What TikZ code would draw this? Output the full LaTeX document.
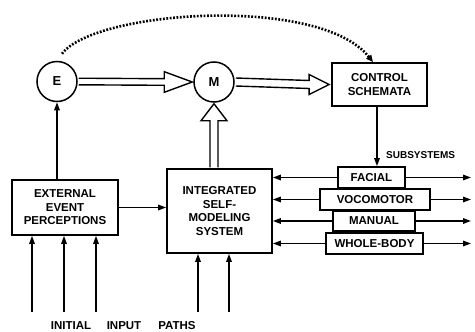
\documentclass[tikz,border=0pt]{standalone}
\usepackage{fontspec}
\setmainfont{Liberation Sans}
\usetikzlibrary{arrows.meta,calc}
\begin{document}
\begin{tikzpicture}[x=1pt,y=-1pt,
  lbl/.style={font=\bfseries\fontsize{11.5}{13.5}\selectfont, align=center, inner sep=0pt},
  blk/.style={draw, line width=1.7pt, lbl},
  subbox/.style={blk, minimum height=21pt},
  ring/.style={draw, circle, line width=1.5pt, minimum size=40pt, inner sep=0pt, lbl, font=\bfseries\fontsize{13}{15}\selectfont},
  wire/.style={line width=1.5pt},
  tip/.style={wire, -{Triangle[length=8pt,width=5.5pt]}},
  hollow/.style={draw, line width=1.4pt, fill=white, line join=miter},
  dots/.style={line width=2.6pt, dash pattern=on 1.8pt off 1.6pt, -{Triangle[length=7pt,width=6pt]}}
]
\useasboundingbox (0,0) rectangle (475,332);

% circles and blocks
\node[ring] (E) at (57,81.5) {E};
\node[ring] (M) at (214,82) {M};
\node[blk, minimum width=95pt, minimum height=43pt] (CS) at (379.5,84.5) {CONTROL\\SCHEMATA};
\node[blk, minimum width=106pt, minimum height=55pt] (EEP) at (65,207.5) {EXTERNAL\\EVENT\\PERCEPTIONS};
\node[blk, minimum width=105pt, minimum height=84pt] (ISMS) at (219.5,211) {INTEGRATED\\SELF-\\MODELING\\SYSTEM};

% subsystem boxes
\node[subbox, minimum width=67pt] (FAC) at (371.5,177.5) {FACIAL};
\node[subbox, minimum width=110pt] (VOC) at (375,199.5) {VOCOMOTOR};
\node[subbox, minimum width=82pt, minimum height=20pt] (MAN) at (374,221) {MANUAL};
\node[subbox, minimum width=97pt] (WB) at (374.5,243.5) {WHOLE-BODY};

% labels
\node[lbl, font=\bfseries\fontsize{10}{11}\selectfont, anchor=west] (sublbl) at (386,155) {SUBSYSTEMS};
\node[lbl] (w1) at (71,326) {INITIAL};
\node[lbl] (w2) at (124,326) {INPUT};
\node[lbl] (w3) at (177,326) {PATHS};

% hollow arrows
\draw[hollow] ($(E.east)+(1,3.3)$) -- ($(M.west)+(-29,3.3)$) -- ($(M.west)+(-29,10.3)$)
  -- ($(M.west)+(-1,0)$) -- ($(M.west)+(-29,-10.3)$) -- ($(M.west)+(-29,-3.3)$) -- ($(E.east)+(1,-3.3)$);
\draw[hollow] ($(M.east)+(1,4)$) -- ($(CS.west)+(-22,4)$) -- ($(CS.west)+(-22,10)$)
  -- ($(CS.west)+(-2,0)$) -- ($(CS.west)+(-22,-10)$) -- ($(CS.west)+(-22,-4)$) -- ($(M.east)+(1,-4)$);
\coordinate (mup) at (M.south |- ISMS.north);
\draw[hollow] ($(mup)+(-4,-0.8)$) -- ($(M.south)+(-4,18)$) -- ($(M.south)+(-13,18)$)
  -- ($(M.south)+(0,1)$) -- ($(M.south)+(13,18)$) -- ($(M.south)+(4,18)$) -- ($(mup)+(4,-0.8)$);

% dotted feedback from E to the control schemata
\draw[dots] ($(E.north)+(5,-7)$) .. controls (95,10) and (320,-5) .. ($(CS.north)+(-6.5,0)$);

% control schemata to subsystems
\coordinate (csout) at ($(CS.south)+(-2.5,0)$);
\draw[tip] (csout) -- (csout |- FAC.north);

% perception paths
\draw[tip] (E.south |- EEP.north) -- (E.south);
\draw[tip] (EEP.east) -- (EEP.east -| ISMS.west);

% subsystem links
\coordinate (rend) at (471,0);
\foreach \s in {FAC,VOC,MAN,WB} {
  \draw[tip] (\s.west) -- (\s.west -| ISMS.east);
  \draw[tip] (\s.east) -- (\s.east -| rend);
}

% initial input paths
\foreach \n/\x in {i1/32,i2/64,i3/96} {
  \coordinate (\n) at (\x,312);
  \draw[tip] (\n) -- (\n |- EEP.south);
}
\foreach \n/\x in {i4/198,i5/229} {
  \coordinate (\n) at (\x,312);
  \draw[tip] (\n) -- (\n |- ISMS.south);
}
\end{tikzpicture}
\end{document}
